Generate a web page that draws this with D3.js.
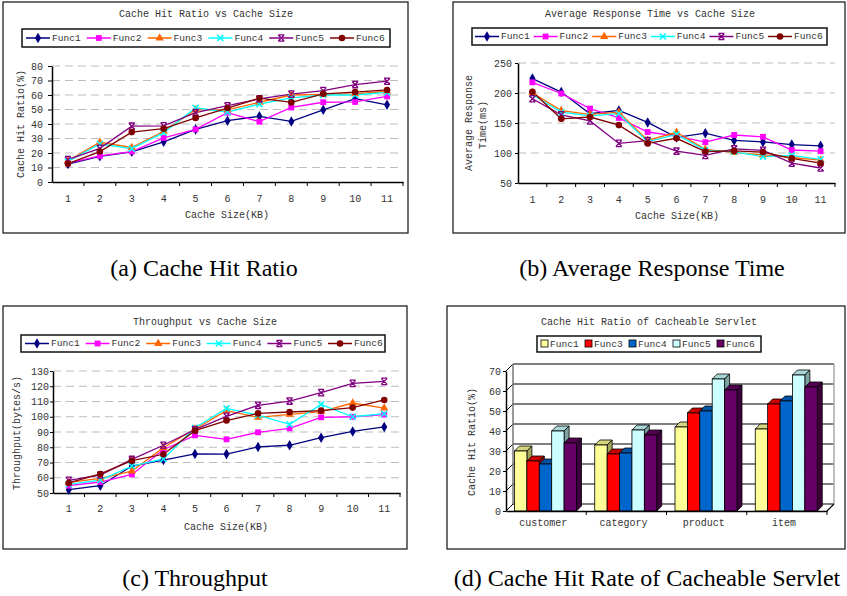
<!DOCTYPE html>
<html><head><meta charset="utf-8">
<script src="https://cdn.jsdelivr.net/npm/d3@7"></script>
<style>body{margin:0;background:#fff}svg{display:block}</style>
</head><body>
<svg id="c" width="847" height="596"></svg>
<script>
// ---------- DATA ----------
const cacheSizes = ["1","2","3","4","5","6","7","8","9","10","11"];
const funcNames = ["Func1","Func2","Func3","Func4","Func5","Func6"];

// (a) Cache hit ratio (%)
const hitF1 = [12.4, 17.7, 20.8, 27.7, 36.3, 42.3, 45.3, 41.8, 49.8, 57.5, 53.2];
const hitF2 = [13.0, 18.0, 21.0, 30.4, 36.3, 47.8, 41.6, 51.4, 55.0, 55.2, 59.0];
const hitF3 = [14.6, 27.4, 23.8, 35.0, 49.8, 49.8, 55.0, 60.0, 60.5, 60.8, 62.6];
const hitF4 = [14.2, 26.2, 23.0, 34.0, 51.2, 48.2, 53.7, 58.0, 60.0, 60.0, 61.8];
const hitF5 = [15.4, 23.2, 38.5, 38.7, 47.8, 52.6, 57.3, 60.6, 63.0, 67.2, 69.5];
const hitF6 = [12.6, 21.0, 34.4, 36.8, 44.2, 51.0, 57.8, 54.9, 60.8, 62.0, 63.5];
const hitTicks = [0,10,20,30,40,50,60,70,80];

// (b) Average response time (ms)
const rtF1 = [224, 201.5, 165.5, 171, 151, 126, 133, 121, 118.5, 114, 112];
const rtF2 = [217.8, 199.2, 174, 158.5, 135, 128, 118, 130, 127, 105, 103];
const rtF3 = [200.5, 170.8, 164.5, 168, 121, 134.5, 106, 100.5, 97, 92.5, 88];
const rtF4 = [197.5, 168, 162, 165.5, 118.5, 131, 104.5, 102, 94, 96, 89.5];
const rtF5 = [190.4, 163.7, 153.5, 116, 120.5, 103, 96, 107, 104.5, 83, 75];
const rtF6 = [202, 157, 160, 146.5, 116, 124.5, 102.5, 103.5, 101.5, 91, 83];
const rtTicks = [50,100,150,200,250];

// (c) Throughput (bytes/s)
const tpF1 = [52.2, 54.8, 67.7, 71.6, 75.6, 75.5, 80.2, 81.3, 86.3, 90.4, 93.3];
const tpF2 = [54.8, 57.2, 62.2, 78.4, 87.8, 85.2, 89.8, 92.4, 99.6, 100, 101.4];
const tpF3 = [57.0, 59.6, 64.4, 79.7, 92.0, 104, 99.6, 101.6, 103.3, 109, 105.7];
const tpF4 = [55.7, 58.5, 67.7, 72.3, 92.8, 105.5, 101, 95, 108.1, 100, 102];
const tpF5 = [58.3, 61.8, 72.0, 81.3, 91.5, 100.3, 107.5, 110.3, 115.8, 121.9, 123.2];
const tpF6 = [56.6, 62.5, 71.2, 75.4, 90.9, 97.5, 102.2, 103.1, 104, 106, 111];
const tpTicks = [50,60,70,80,90,100,110,120,130];

// (d) Cache hit ratio of cacheable servlet (%)
const servlets = ["customer","category","product","item"];
const servletFuncs = ["Func1","Func3","Func4","Func5","Func6"];
const svF1 = [30, 33, 42, 41];
const svF3 = [25, 28.5, 49, 53.5];
const svF4 = [23.5, 29, 50, 55];
const svF5 = [40, 40.5, 66, 68];
const svF6 = [34, 38, 60.5, 62];
const svTicks = [0,10,20,30,40,50,60,70];

// ---------- STYLE ----------
const FONT = "'Liberation Mono','DejaVu Sans Mono',monospace";
const SERIF = "'Liberation Serif','Times New Roman',serif";
const TXT = "#333";
const lineColors = ["#000080","#FF00FF","#FF6600","#00FFFF","#800080","#800000"];
const markerFill = ["#000080","#FF00FF","#FF6600","#00FFFF","#800080","#800000"];
const markerTypes = ["diamond","square","triangle","x","star","circle"];
const barFront = ["#FFFF99","#FF0000","#0066CC","#CCFFFF","#660066"];
const barTop   = ["#D6D680","#CC0000","#0052A3","#A8D6D6","#520052"];
const barSide  = ["#A3A35C","#990000","#003D7A","#7FA3A3","#3D003D"];

const svg = d3.select("#c");

function drawMarker(g, type, color, x, y) {
  if (type === "diamond") {
    g.append("path").attr("d", d3.symbol(d3.symbolDiamond, 32)()).attr("transform", `translate(${x},${y})`).attr("fill", color);
  } else if (type === "square") {
    g.append("path").attr("d", d3.symbol(d3.symbolSquare, 34)()).attr("transform", `translate(${x},${y})`).attr("fill", color);
  } else if (type === "triangle") {
    g.append("path").attr("d", d3.symbol(d3.symbolTriangle, 30)()).attr("transform", `translate(${x},${y})`).attr("fill", color);
  } else if (type === "x") {
    g.append("path").attr("d", "M-3,-3L3,3M-3,3L3,-3").attr("transform", `translate(${x},${y})`).attr("stroke", color).attr("stroke-width", 1.6).attr("fill", "none");
  } else if (type === "star") {
    g.append("path").attr("d", "M-3,-3L3,3M-3,3L3,-3M-3,-3.2L3,-3.2M-3,3.2L3,3.2").attr("transform", `translate(${x},${y})`).attr("stroke", color).attr("stroke-width", 1.3).attr("fill", "none");
  } else {
    g.append("circle").attr("cx", x).attr("cy", y).attr("r", 3.3).attr("fill", color);
  }
}

function text(g, x, y, s, opts = {}) {
  const t = g.append("text").attr("x", x).attr("y", y).text(s)
    .attr("font-family", opts.family || FONT)
    .attr("font-size", opts.size || 10)
    .attr("fill", opts.fill || TXT)
    .attr("text-anchor", opts.anchor || "middle");
  if (opts.baseline) t.attr("dominant-baseline", opts.baseline);
  if (opts.rotate) t.attr("transform", `rotate(-90,${x},${y})`);
  return t;
}

function lineChart(cfg) {
  const g = svg.append("g");
  g.append("rect").attr("x", cfg.box[0]).attr("y", cfg.box[1]).attr("width", cfg.box[2]).attr("height", cfg.box[3])
    .attr("fill", "#fff").attr("stroke", "#222").attr("stroke-width", 1.3);
  text(g, cfg.titleX, cfg.titleY, cfg.title, {baseline: "central"});

  const x = d3.scaleBand().domain(cacheSizes).range([cfg.x0, cfg.x1]);
  const y = d3.scaleLinear().domain([cfg.ticks[0], cfg.ticks[cfg.ticks.length - 1]]).range([cfg.yb, cfg.yt]);

  // gridlines
  g.append("g").selectAll("line").data(cfg.ticks.slice(1)).join("line")
    .attr("x1", cfg.x0).attr("x2", cfg.x1).attr("y1", d => y(d)).attr("y2", d => y(d))
    .attr("stroke", "#BDBDBD").attr("stroke-width", 1.2).attr("stroke-dasharray", "8,5");

  // y axis
  const ya = g.append("g").attr("transform", `translate(${cfg.x0},0)`)
    .call(d3.axisLeft(y).tickValues(cfg.ticks).tickSize(cfg.yTick).tickSizeOuter(0).tickPadding(cfg.yPad).tickFormat(d3.format("d")));
  ya.attr("font-family", FONT).attr("font-size", 10);
  ya.selectAll("text").attr("fill", TXT);
  ya.select(".domain").attr("stroke", "#000").attr("stroke-width", 1.5);
  ya.selectAll(".tick line").attr("stroke", "#000");

  // x axis
  const xa = g.append("g").attr("transform", `translate(0,${cfg.yb})`)
    .call(d3.axisBottom(x).tickSize(0).tickSizeOuter(0).tickPadding(cfg.xPad));
  xa.attr("font-family", FONT).attr("font-size", 10);
  xa.selectAll("text").attr("fill", TXT);
  xa.select(".domain").attr("stroke", "#000").attr("stroke-width", 1.5);
  g.append("g").selectAll("line").data(cacheSizes).join("line")
    .attr("x1", d => x(d) + x.step()).attr("x2", d => x(d) + x.step())
    .attr("y1", cfg.yb).attr("y2", cfg.yb + 4).attr("stroke", "#000");

  // series
  const line = d3.line().x((d, i) => x(cacheSizes[i]) + x.bandwidth() / 2).y(d => y(d));
  cfg.series.forEach((s, k) => {
    g.append("path").attr("d", line(s)).attr("fill", "none").attr("stroke", lineColors[k]).attr("stroke-width", 1.3);
  });
  cfg.series.forEach((s, k) => {
    s.forEach((v, i) => drawMarker(g, markerTypes[k], markerFill[k], x(cacheSizes[i]) + x.bandwidth() / 2, y(v)));
  });

  // legend
  const L = cfg.legend;
  g.append("rect").attr("x", L.x).attr("y", L.y).attr("width", L.w).attr("height", L.h)
    .attr("fill", "#fff").attr("stroke", "#111").attr("stroke-width", 1.5);
  const cy = L.y + L.h / 2;
  funcNames.forEach((n, k) => {
    const sx = L.x + L.pad + k * L.step;
    g.append("line").attr("x1", sx).attr("x2", sx + 24).attr("y1", cy).attr("y2", cy)
      .attr("stroke", lineColors[k]).attr("stroke-width", 1.5);
    drawMarker(g, markerTypes[k], markerFill[k], sx + 12, cy);
    text(g, sx + 26, cy, n, {anchor: "start", baseline: "central", size: 9.6});
  });

  // axis titles
  text(g, cfg.xTitle[0], cfg.xTitle[1], "Cache Size(KB)", {baseline: "central"});
  cfg.yTitle.forEach(t => text(g, t[0], t[1], t[2], {baseline: "central", rotate: true}));
}

lineChart({
  box: [3, 2, 405, 231], title: "Cache Hit Ratio vs Cache Size", titleX: 206, titleY: 14,
  x0: 52, x1: 403, yb: 182, yt: 66, ticks: hitTicks, yTick: 4, yPad: 5, xPad: 13,
  series: [hitF1, hitF2, hitF3, hitF4, hitF5, hitF6],
  legend: {x: 22, y: 29, w: 368, h: 18, pad: 4, step: 60.8},
  xTitle: [227, 215], yTitle: [[21, 124, "Cache Hit Ratio(%)"]]
});

lineChart({
  box: [453, 2, 392, 231], title: "Average Response Time vs Cache Size", titleX: 650, titleY: 14,
  x0: 518, x1: 835, yb: 183, yt: 63, ticks: rtTicks, yTick: 3, yPad: 3, xPad: 13,
  series: [rtF1, rtF2, rtF3, rtF4, rtF5, rtF6],
  legend: {x: 472, y: 28, w: 355, h: 17, pad: 3, step: 58.6},
  xTitle: [677, 216], yTitle: [[469, 123, "Average Response"], [483, 125, "Time(ms)"]]
});

lineChart({
  box: [3, 306, 404, 243], title: "Throughput vs Cache Size", titleX: 205, titleY: 322,
  x0: 53, x1: 400, yb: 493, yt: 371, ticks: tpTicks, yTick: 3, yPad: 1, xPad: 12,
  series: [tpF1, tpF2, tpF3, tpF4, tpF5, tpF6],
  legend: {x: 21, y: 335, w: 364, h: 17, pad: 4, step: 60.6},
  xTitle: [226, 527], yTitle: [[17, 433, "Throughput(bytes/s)"]]
});

// ---------- (d) 3D bar chart ----------
(function () {
  const g = svg.append("g");
  g.append("rect").attr("x", 447).attr("y", 306).attr("width", 398).attr("height", 243)
    .attr("fill", "#fff").attr("stroke", "#222").attr("stroke-width", 1.3);
  text(g, 649, 322, "Cache Hit Ratio of Cacheable Servlet", {baseline: "central"});

  const D = 7;               // wall depth
  const fx0 = 506, fx1 = 827, fy0 = 511;
  const x = d3.scaleBand().domain(servlets).range([fx0, fx1]);
  const y = d3.scaleLinear().domain([0, 70]).range([fy0, fy0 - 140]);

  // back wall gridlines
  g.append("g").selectAll("line").data(svTicks).join("line")
    .attr("x1", fx0 + D).attr("x2", fx1 + D).attr("y1", d => y(d) - D).attr("y2", d => y(d) - D)
    .attr("stroke", "#000").attr("stroke-width", 1.2);
  // side wall diagonals
  g.append("g").selectAll("line").data(svTicks).join("line")
    .attr("x1", fx0).attr("x2", fx0 + D).attr("y1", d => y(d)).attr("y2", d => y(d) - D)
    .attr("stroke", "#000").attr("stroke-width", 1);
  // wall edges
  g.append("line").attr("x1", fx0 + D).attr("x2", fx0 + D).attr("y1", y(70) - D).attr("y2", y(0) - D).attr("stroke", "#777").attr("stroke-width", 1.5);
  g.append("line").attr("x1", fx1 + D).attr("x2", fx1 + D).attr("y1", y(70) - D).attr("y2", y(0) - D).attr("stroke", "#aaa").attr("stroke-width", 1.5);
  // floor
  g.append("line").attr("x1", fx1).attr("x2", fx1 + D).attr("y1", fy0).attr("y2", fy0 - D).attr("stroke", "#000").attr("stroke-width", 1.2);

  // bars
  const series = [svF1, svF3, svF4, svF5, svF6];
  const bw = 12.4, off = 8.5, d = 5;
  servlets.forEach((c, i) => {
    series.forEach((s, k) => {
      const bx = x(c) + off + k * bw, top = y(s[i]), base = y(0);
      g.append("path").attr("d", `M${bx},${top}L${bx + d},${top - d}L${bx + bw + d},${top - d}L${bx + bw},${top}Z`)
        .attr("fill", barTop[k]).attr("stroke", "#000").attr("stroke-width", 0.8);
      g.append("path").attr("d", `M${bx + bw},${top}L${bx + bw + d},${top - d}L${bx + bw + d},${base - d}L${bx + bw},${base}Z`)
        .attr("fill", barSide[k]).attr("stroke", "#000").attr("stroke-width", 0.8);
      g.append("rect").attr("x", bx).attr("y", top).attr("width", bw).attr("height", base - top)
        .attr("fill", barFront[k]).attr("stroke", "#000").attr("stroke-width", 0.8);
    });
  });

  // front axes
  const ya = g.append("g").attr("transform", `translate(${fx0},0)`)
    .call(d3.axisLeft(y).tickValues(svTicks).tickSize(3).tickSizeOuter(0).tickPadding(2).tickFormat(d3.format("d")));
  ya.attr("font-family", FONT).attr("font-size", 10);
  ya.selectAll("text").attr("fill", TXT);
  ya.select(".domain").attr("stroke", "#000").attr("stroke-width", 1.5);
  const xa = g.append("g").attr("transform", `translate(0,${fy0})`)
    .call(d3.axisBottom(x).tickSize(0).tickSizeOuter(0).tickPadding(8));
  xa.attr("font-family", FONT).attr("font-size", 10);
  xa.selectAll("text").attr("fill", TXT).attr("dx", -3);
  xa.select(".domain").attr("stroke", "#000").attr("stroke-width", 1.5);
  g.append("g").selectAll("line").data(servlets).join("line")
    .attr("x1", c => x(c) + x.step()).attr("x2", c => x(c) + x.step())
    .attr("y1", fy0).attr("y2", fy0 + 4).attr("stroke", "#000");

  text(g, 472, 442, "Cache Hit Ratio(%)", {baseline: "central", rotate: true});

  // legend
  g.append("rect").attr("x", 537).attr("y", 336).attr("width", 224).attr("height", 16)
    .attr("fill", "#fff").attr("stroke", "#111").attr("stroke-width", 1.5);
  servletFuncs.forEach((n, k) => {
    const sx = 541 + k * 44;
    g.append("rect").attr("x", sx).attr("y", 340).attr("width", 7).attr("height", 7)
      .attr("fill", barFront[k]).attr("stroke", "#000").attr("stroke-width", 0.8);
    text(g, sx + 9, 344, n, {anchor: "start", baseline: "central", size: 9.6});
  });
})();

// ---------- captions ----------
text(svg, 204, 276, "(a) Cache Hit Ratio", {family: SERIF, size: 24, fill: "#000"});
text(svg, 652, 276, "(b) Average Response Time", {family: SERIF, size: 24, fill: "#000"});
text(svg, 195, 586, "(c) Throughput", {family: SERIF, size: 24, fill: "#000"});
text(svg, 647, 586, "(d) Cache Hit Rate of Cacheable Servlet", {family: SERIF, size: 24, fill: "#000"});
</script>
</body></html>
